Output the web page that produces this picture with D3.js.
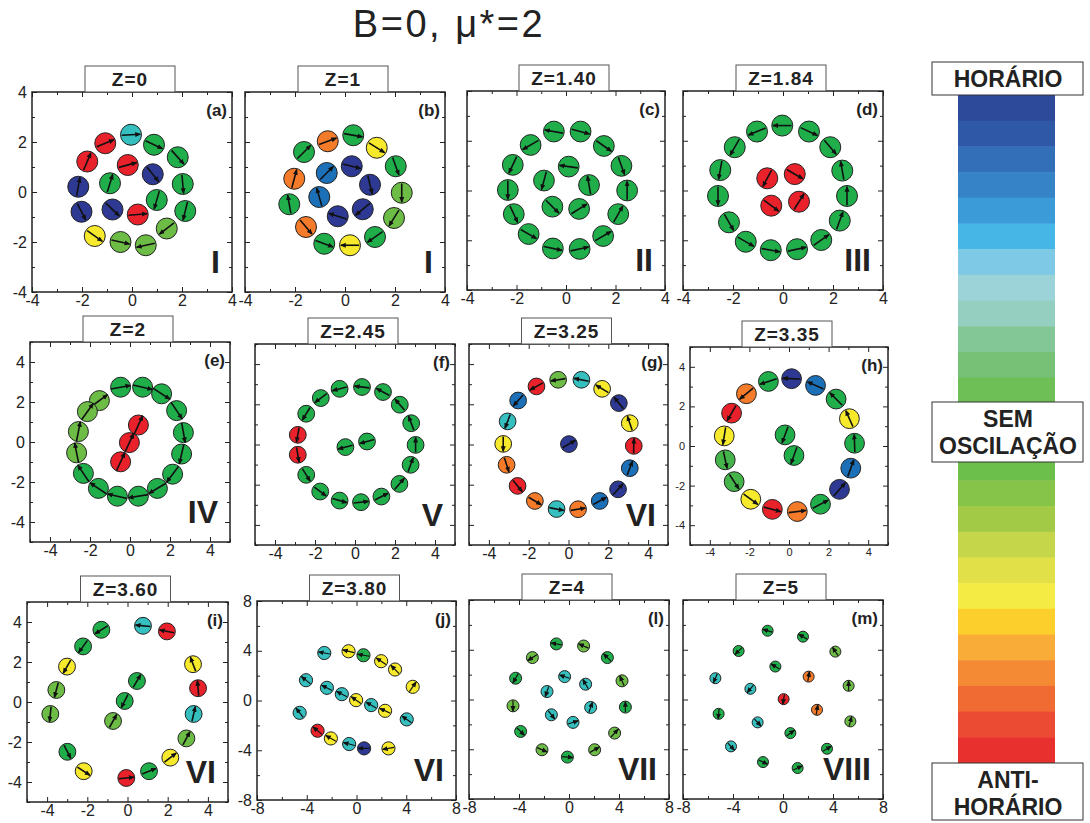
<!DOCTYPE html>
<html>
<head>
<meta charset="utf-8">
<script src="https://cdn.jsdelivr.net/npm/d3@7"></script>
<style>
  body { margin: 0; background: #fff; }
  text { font-family: "Liberation Sans", Arial, sans-serif; }
</style>
</head>
<body>
<script>
// particle colour keys (oscillation class)
const palette = {R: "#e8212a", O: "#f47b2a", Y: "#f7ea2c", G: "#20ae4b", M: "#45b44a",
                 L: "#6dbc46", C: "#36bfbf", B: "#1c70b8", D: "#2d3992"};

// each particle: [x, y, dipole angle (deg), colour key]
const panelA = [
  [-0.04, 2.29, 3, "C"], [-1.07, 1.95, 22, "R"], [-1.79, 1.22, 67, "R"], [0.88, 1.89, -25, "G"],
  [1.83, 1.39, -48, "G"], [-0.17, 1.08, 15, "R"], [0.83, 0.71, -51, "D"], [2.03, 0.32, -85, "G"],
  [-2.15, 0.21, 80, "D"], [-0.88, 0.35, 73, "G"], [0.99, -0.32, -106, "G"], [2.13, -0.76, -104, "G"],
  [-2.02, -0.79, -63, "D"], [-0.78, -0.7, -44, "D"], [0.23, -0.9, 5, "R"], [-1.49, -1.76, -35, "Y"],
  [1.39, -1.46, -142, "L"], [-0.46, -2.0, -12, "L"], [0.55, -2.13, -168, "L"]
];
const panelB = [
  [-0.69, 2.03, 20, "O"], [0.33, 2.27, -10, "G"], [1.27, 1.77, -32, "Y"], [-1.64, 1.6, 45, "G"],
  [-0.73, 0.76, 45, "B"], [0.27, 1.03, -14, "D"], [2.03, 1.03, -70, "G"], [-2.03, 0.53, 75, "O"],
  [1.0, 0.29, -76, "D"], [2.27, -0.03, -90, "L"], [-1.03, -0.2, 106, "B"], [-2.23, -0.49, 100, "G"],
  [0.71, -0.69, -140, "D"], [-0.29, -0.97, 162, "D"], [1.96, -1.04, -122, "L"], [-1.56, -1.4, -50, "O"],
  [-0.83, -2.07, -20, "G"], [0.2, -2.13, 180, "Y"], [1.2, -1.8, -145, "G"]
];
const panelC = [
  [-0.49, 2.37, 170, "G"], [0.59, 2.37, -15, "G"], [-1.43, 1.83, -150, "G"], [1.53, 1.79, -35, "G"],
  [-2.15, 1.03, -115, "G"], [2.24, 0.99, -70, "G"], [-2.35, 0.02, -90, "G"], [2.47, 0, 90, "G"],
  [-2.11, -0.95, -65, "G"], [2.11, -0.95, 60, "G"], [-1.51, -1.75, -30, "G"], [1.5, -1.83, 30, "G"],
  [-0.53, -2.33, -12, "G"], [0.55, -2.35, 12, "G"], [0.11, 0.96, 172, "G"], [-0.89, 0.4, -105, "G"],
  [0.93, 0.22, 100, "G"], [-0.55, -0.65, -45, "G"], [0.53, -0.74, 32, "G"]
];
const panelD = [
  [-0.03, 2.61, 180, "G"], [-1.04, 2.37, -158, "G"], [1.04, 2.37, -25, "G"], [-1.93, 1.74, -120, "G"],
  [1.89, 1.74, -50, "G"], [-2.51, 0.82, -100, "G"], [2.37, 0.8, 100, "G"], [-2.6, -0.22, -90, "G"],
  [2.56, -0.22, 90, "G"], [-2.16, -1.28, -60, "G"], [2.27, -1.21, 70, "G"], [-1.49, -2.06, -30, "G"],
  [1.53, -1.99, 35, "G"], [-0.49, -2.4, -10, "G"], [0.56, -2.36, 12, "G"], [-0.63, 0.49, -118, "R"],
  [0.47, 0.66, -30, "R"], [-0.47, -0.61, -37, "R"], [0.64, -0.45, 58, "R"]
];
const panelE = [
  [-1.53, 2.07, 36, "L"], [-0.47, 2.74, 10, "G"], [0.63, 2.74, -13, "G"], [1.58, 2.41, -33, "G"],
  [2.33, 1.57, -56, "G"], [2.67, 0.47, -80, "G"], [2.58, -0.6, -103, "G"], [2.13, -1.61, -127, "G"],
  [1.37, -2.32, -149, "G"], [0.42, -2.71, -171, "G"], [-0.63, -2.71, 167, "G"], [-1.58, -2.32, 146, "G"],
  [-2.33, -1.57, 124, "G"], [-2.67, -0.54, 101, "L"], [-2.58, 0.52, 79, "L"], [-2.13, 1.52, 54, "L"],
  [0.42, 0.85, 65, "R"], [-0.03, -0.03, 65, "R"], [-0.47, -0.99, 65, "R"]
];
const panelF = [
  [0.35, 2.86, 173, "G"], [-0.77, 2.77, -165, "G"], [1.4, 2.61, 152, "G"], [-1.71, 2.31, -143, "G"],
  [2.24, 1.98, 131, "G"], [-2.44, 1.53, -122, "G"], [2.81, 1.06, 111, "G"], [-2.86, 0.48, -100, "R"],
  [3.03, -0.02, 90, "G"], [-2.86, -0.51, -80, "R"], [2.78, -1.01, 70, "G"], [-2.44, -1.51, -58, "G"],
  [2.22, -1.96, 49, "G"], [-1.74, -2.34, -37, "G"], [1.32, -2.59, 27, "G"], [-0.77, -2.79, -16, "G"],
  [0.3, -2.87, 6, "G"], [-0.48, -0.13, 195, "G"], [0.6, 0.15, 195, "G"]
];
const panelG = [
  [-0.52, 3.22, 189, "L"], [0.65, 3.22, 169, "C"], [-1.61, 2.89, 209, "R"], [1.69, 2.77, 149, "Y"],
  [-2.53, 2.19, 229, "B"], [2.53, 2.06, 129, "D"], [-3.06, 1.15, 249, "C"], [3.08, 1.06, 109, "Y"],
  [-3.28, 0.03, 270, "Y"], [3.28, -0.07, 89, "R"], [-3.11, -1.01, -72, "O"], [3.08, -1.18, 69, "B"],
  [-2.56, -2.06, -51, "R"], [2.49, -2.23, 48, "D"], [-1.69, -2.81, -31, "O"], [1.57, -2.81, 29, "B"],
  [-0.6, -3.21, -11, "C"], [0.48, -3.22, 9, "O"], [0.02, 0.02, 30, "D"]
];
const panelH = [
  [0.13, 3.4, 178, "D"], [-1.04, 3.26, 198, "G"], [1.34, 3.06, 156, "B"], [-2.15, 2.64, 219, "O"],
  [2.38, 2.37, 135, "G"], [-2.9, 1.66, 240, "R"], [3.05, 1.38, 114, "Y"], [-3.27, 0.51, 261, "Y"],
  [3.31, 0.14, 92, "G"], [-3.22, -0.7, -78, "M"], [3.12, -1.12, 70, "B"], [-2.77, -1.8, -57, "M"],
  [2.55, -2.19, 49, "D"], [-1.93, -2.69, -36, "Y"], [1.59, -2.94, 28, "G"], [-0.84, -3.2, -15, "R"],
  [0.42, -3.31, 7, "O"], [-0.2, 0.56, -110, "G"], [0.25, -0.48, -110, "G"]
];
const panelI = [
  [-1.3, 3.61, 212, "G"], [0.77, 3.81, 175, "C"], [1.96, 3.53, 169, "R"], [-2.21, 2.78, 234, "G"],
  [3.26, 1.89, 111, "Y"], [-3.01, 1.77, 240, "Y"], [0.47, 1.05, 60, "G"], [-3.54, 0.6, 255, "L"],
  [3.51, 0.69, 95, "R"], [-0.14, 0.05, 243, "G"], [-3.84, -0.6, 264, "L"], [3.29, -0.6, 77, "C"],
  [-0.72, -0.95, 61, "L"], [2.93, -1.82, 62, "L"], [-2.99, -2.49, -63, "G"], [2.13, -2.78, 38, "Y"],
  [-2.18, -3.46, -33, "Y"], [1.07, -3.46, 22, "G"], [-0.06, -3.8, 6, "R"]
];
const panelJ = [
  [-2.59, 3.82, 170, "C"], [-0.64, 3.96, 167, "Y"], [0.56, 3.64, 170, "G"], [1.98, 3.16, 146, "Y"],
  [3.1, 2.49, 135, "Y"], [4.52, 1.1, 55, "Y"], [-4.06, 1.63, 141, "C"], [-2.38, 1.02, 153, "C"],
  [-1.18, 0.51, 153, "C"], [-0.03, 0.03, 145, "Y"], [1.18, -0.37, 150, "C"], [2.3, -0.83, 155, "Y"],
  [4.04, -1.52, 145, "C"], [-4.57, -0.99, 128, "C"], [-3.13, -2.43, 141, "R"], [-2.06, -3.05, 150, "Y"],
  [-0.59, -3.5, 165, "C"], [0.61, -3.85, 180, "D"], [2.57, -3.85, 190, "Y"]
];
const panelL = [
  [-1.01, 4.47, 170, "G"], [1.17, 4.3, 157, "L"], [-2.93, 3.37, 212, "L"], [3.07, 3.37, 135, "G"],
  [-4.27, 1.71, 240, "G"], [4.24, 1.5, 114, "L"], [-4.48, -0.51, 270, "L"], [4.51, -0.61, 90, "G"],
  [-3.87, -2.57, -45, "G"], [3.65, -2.7, 48, "L"], [-2.16, -4.04, -24, "L"], [2.05, -4.04, 30, "L"],
  [-0.13, -4.63, -5, "G"], [-0.35, 1.84, 162, "C"], [1.33, 1.23, 120, "C"], [-1.76, 0.64, 250, "C"],
  [1.73, -0.64, 70, "C"], [-1.41, -1.23, -52, "C"], [0.32, -1.84, 18, "C"]
];
const panelM = [
  [-1.23, 5.53, 164, "G"], [1.6, 5.05, 150, "G"], [-3.55, 3.9, 225, "G"], [4.19, 3.85, 125, "L"],
  [-0.61, 2.65, 150, "G"], [-5.41, 1.71, 247, "C"], [2.05, 1.84, 80, "O"], [5.25, 1.1, 90, "L"],
  [-2.61, 0.86, 230, "C"], [0.05, 0.03, 260, "R"], [2.72, -0.83, 80, "O"], [-5.15, -1.15, 265, "G"],
  [5.39, -1.76, 75, "L"], [-2.03, -1.84, -48, "C"], [0.59, -2.7, 36, "G"], [-4.16, -3.77, -48, "C"],
  [3.52, -3.96, 32, "G"], [-1.6, -5.03, -25, "G"], [1.17, -5.51, 25, "G"]
];

// panel titles and labels
const zTitles = ["Z=0", "Z=1", "Z=1.40", "Z=1.84", "Z=2", "Z=2.45", "Z=3.25", "Z=3.35", "Z=3.60", "Z=3.80", "Z=4", "Z=5"];
const letters = ["(a)", "(b)", "(c)", "(d)", "(e)", "(f)", "(g)", "(h)", "(i)", "(j)", "(l)", "(m)"];
const phases = ["I", "I", "II", "III", "IV", "V", "VI", "", "VI", "VI", "VII", "VIII"];
const axisRange = [4, 4, 4, 4, 5, 5, 5, 5, 5, 8, 8, 8];
const majorTicks = {4: [-4, -2, 0, 2, 4], 5: [-4, -2, 0, 2, 4], 8: [-8, -4, 0, 4, 8]};
const minorTicks = {4: [-3, -1, 1, 3], 5: [-5, -3, -1, 1, 3, 5], 8: [-6, -2, 2, 6]};

// colour bar, top (horário) to bottom (anti-horário)
const barColors = ["#2d4a9a", "#2f59a7", "#336fb8", "#3684c7", "#3a9bd8", "#46b6e6", "#7ecae6", "#9cd3d9",
  "#95cfbf", "#84c796", "#77c177", "#6ebf55", "#6cbf4c", "#6cbf4c", "#6cbf4b", "#86c449", "#a3ca47",
  "#c6d64a", "#e2e049", "#f5eb45", "#fdcf2c", "#f9ad38", "#f48a33", "#f06a34", "#ec4b33", "#e8302e"];

const datasets = [panelA, panelB, panelC, panelD, panelE, panelF, panelG, panelH, panelI, panelJ, panelL, panelM];

// layout of the frames (pixels)
const layout = [
  {x: 32, y: 92, w: 200, h: 200, r: 0.42, showY: true},
  {x: 245, y: 92, w: 200, h: 200, r: 0.42},
  {x: 467, y: 91, w: 198, h: 199, r: 0.42},
  {x: 683, y: 91, w: 200, h: 199, r: 0.42},
  {x: 30, y: 342, w: 200, h: 200, r: 0.5, showY: true, len: 1.0},
  {x: 255, y: 344, w: 200, h: 201, r: 0.42},
  {x: 469, y: 344, w: 199, h: 201, r: 0.42},
  {x: 690, y: 347, w: 198, h: 198, r: 0.5, showY: true, fs: 11},
  {x: 27, y: 602, w: 201, h: 200, r: 0.42, showY: true},
  {x: 257, y: 601, w: 199, h: 199, r: 0.53, showY: true},
  {x: 469, y: 600, w: 200, h: 199, r: 0.48},
  {x: 683, y: 600, w: 200, h: 199, r: 0.44}
];

const svg = d3.select("body").append("svg")
    .attr("width", 1090)
    .attr("height", 823);

const defs = svg.append("defs");
defs.append("marker")
    .attr("id", "arr")
    .attr("viewBox", "0 -3 6 6")
    .attr("refX", 5).attr("refY", 0)
    .attr("markerUnits", "userSpaceOnUse")
    .attr("markerWidth", 6).attr("markerHeight", 6)
    .attr("orient", "auto")
  .append("path")
    .attr("d", "M0,-2.5L6,0L0,2.5Z")
    .attr("fill", "#111");

svg.append("text")
    .attr("x", 449).attr("y", 37)
    .attr("text-anchor", "middle")
    .style("font-size", "38px")
    .style("letter-spacing", "2.5px")
    .attr("fill", "#222")
    .text("B=0, μ*=2");

layout.forEach((p, i) => {
  const dom = axisRange[i];
  const g = svg.append("g").attr("transform", `translate(${p.x},${p.y})`);
  const x = d3.scaleLinear().domain([-dom, dom]).range([0, p.w]);
  const y = d3.scaleLinear().domain([-dom, dom]).range([p.h, 0]);
  const fs = p.fs || 16;
  const fmt = d => String(d);

  // ticks on every side, pointing inward
  const sides = [
    {axis: d3.axisBottom(x), t: `translate(0,${p.h})`, lab: true, pad: 3},
    {axis: d3.axisTop(x), t: null, lab: false, pad: 3},
    {axis: d3.axisLeft(y), t: null, lab: !!p.showY, pad: 5},
    {axis: d3.axisRight(y), t: `translate(${p.w},0)`, lab: false, pad: 3}
  ];
  sides.forEach(s => {
    const major = g.append("g").attr("transform", s.t)
        .call(s.axis.tickValues(majorTicks[dom]).tickSizeInner(-5).tickSizeOuter(0)
              .tickPadding(s.pad)
              .tickFormat(s.lab ? fmt : ""));
    major.select(".domain").remove();
    major.selectAll("line").attr("stroke", "#222");
    major.selectAll("text")
        .style("font-size", fs + "px")
        .style("font-family", "Liberation Sans, Arial, sans-serif")
        .attr("fill", "#222");
    const minor = g.append("g").attr("transform", s.t)
        .call(s.axis.tickValues(minorTicks[dom]).tickSizeInner(-3).tickFormat(""));
    minor.select(".domain").remove();
    minor.selectAll("line").attr("stroke", "#222");
  });

  // particles with dipole arrows
  const rPx = p.r * (x(1) - x(0));
  const half = rPx * (p.len || 0.88);
  const parts = g.selectAll(".part")
      .data(datasets[i])
    .enter().append("g")
      .attr("class", "part")
      .attr("transform", d => `translate(${x(d[0])},${y(d[1])})`);
  parts.append("circle")
      .attr("r", rPx)
      .attr("fill", d => palette[d[3]])
      .attr("stroke", "#222")
      .attr("stroke-width", 1);
  parts.append("line")
      .attr("transform", d => `rotate(${-d[2]})`)
      .attr("x1", -half).attr("x2", half)
      .attr("y1", 0).attr("y2", 0)
      .attr("stroke", "#111")
      .attr("stroke-width", rPx > 8 ? 1.6 : 1.2)
      .attr("marker-end", "url(#arr)");

  // frame
  g.append("rect")
      .attr("width", p.w).attr("height", p.h)
      .attr("fill", "none")
      .attr("stroke", "#222")
      .attr("stroke-width", 1.5);

  // panel letter and phase label
  g.append("text")
      .attr("x", p.w - 5).attr("y", 24)
      .attr("text-anchor", "end")
      .style("font-size", "17px").style("font-weight", "bold")
      .attr("fill", "#222")
      .text(letters[i]);
  g.append("text")
      .attr("x", p.w - 12).attr("y", p.h - 19)
      .attr("text-anchor", "end")
      .style("font-size", "32px").style("font-weight", "bold")
      .attr("fill", "#222")
      .text(phases[i]);

  // Z title box
  const bx = p.w / 2 - 2;
  g.append("rect")
      .attr("x", bx - 45).attr("y", -26)
      .attr("width", 90).attr("height", 26)
      .attr("fill", "#fff")
      .attr("stroke", "#555")
      .attr("stroke-width", 1);
  g.append("text")
      .attr("x", bx).attr("y", -6)
      .attr("text-anchor", "middle")
      .style("font-size", "19px").style("font-weight", "bold")
      .style("letter-spacing", "1px")
      .attr("fill", "#222")
      .text(zTitles[i]);
});

// colour bar
const band = d3.scaleBand()
    .domain(d3.range(barColors.length))
    .range([95, 763]);
svg.append("g").selectAll("rect")
    .data(barColors)
  .enter().append("rect")
    .attr("x", 958)
    .attr("y", (d, i) => band(i))
    .attr("width", 97)
    .attr("height", band.bandwidth() + 0.5)
    .attr("fill", d => d);

const barLabels = [
  {y: 62, h: 33, lines: ["HORÁRIO"]},
  {y: 402, h: 60, lines: ["SEM", "OSCILAÇÃO"]},
  {y: 763, h: 57, lines: ["ANTI-", "HORÁRIO"]}
];
barLabels.forEach(b => {
  svg.append("rect")
      .attr("x", 932).attr("y", b.y)
      .attr("width", 151).attr("height", b.h)
      .attr("fill", "#fff")
      .attr("stroke", "#333")
      .attr("stroke-width", 1);
  b.lines.forEach((t, k) => {
    svg.append("text")
        .attr("x", 1008)
        .attr("y", b.y + (b.lines.length === 1 ? 25 : 25 + k * 27))
        .attr("text-anchor", "middle")
        .style("font-size", "23px").style("font-weight", "bold")
        .attr("fill", "#222")
        .text(t);
  });
});
</script>
</body>
</html>
